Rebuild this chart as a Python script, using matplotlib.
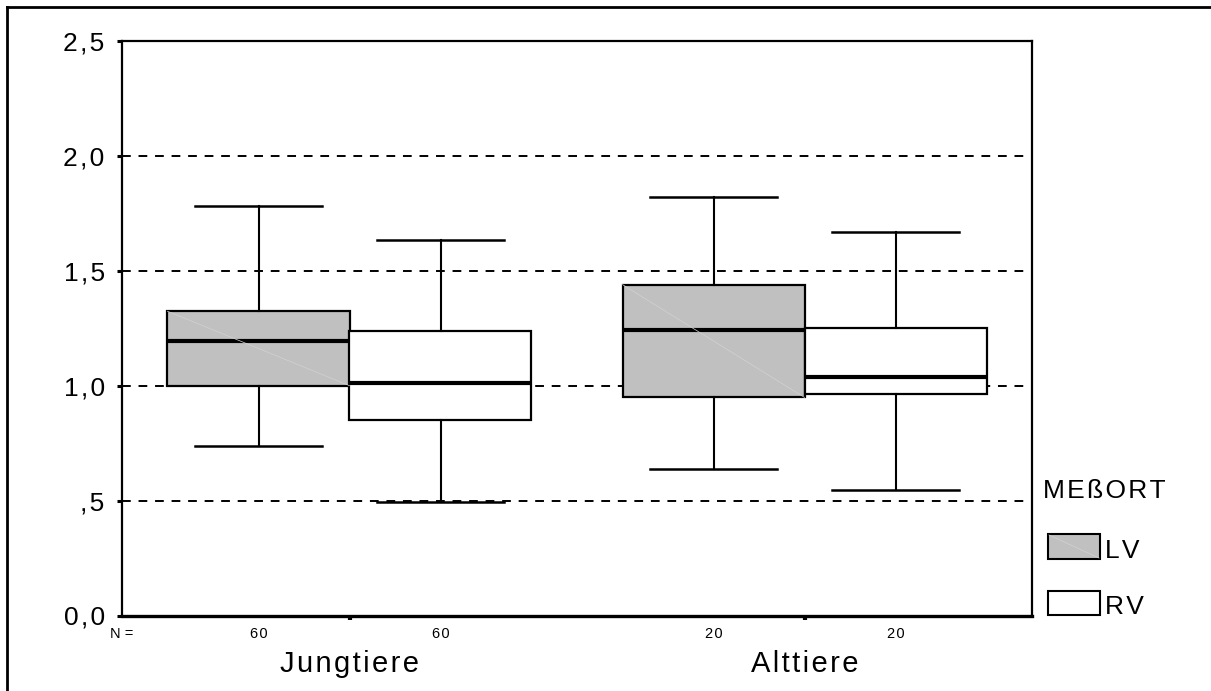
import matplotlib
matplotlib.use("Agg")
import matplotlib.pyplot as plt
from matplotlib.lines import Line2D
from matplotlib.patches import Rectangle

plt.rcParams["font.family"] = ["Liberation Sans", "DejaVu Sans"]

# Box plot statistics (SPSS style, no outliers)
groups = ["Jungtiere", "Alttiere"]
sites = ["LV", "RV"]
counts = [60, 60, 20, 20]
whisker_low = [0.738, 0.495, 0.637, 0.546]
quartile_1 = [1.000, 0.850, 0.949, 0.963]
medians = [1.196, 1.012, 1.243, 1.038]
quartile_3 = [1.324, 1.238, 1.440, 1.251]
whisker_high = [1.780, 1.636, 1.821, 1.670]
y_ticks = [0.0, 0.5, 1.0, 1.5, 2.0, 2.5]
y_tick_labels = ["0,0", ",5", "1,0", "1,5", "2,0", "2,5"]
legend_title = "MEßORT"

site_colors = {"LV": "#c0c0c0", "RV": "white"}

W, H = 1211, 691
fig = plt.figure(figsize=(W / 100, H / 100), dpi=100)


def fx(px):
    return px / W


def fy(py):
    return 1 - py / H


def spaced(text):
    # SPSS output is drawn with loose letter spacing
    return "\u200a".join(text)


ax = fig.add_axes([fx(122), fy(615.5), fx(1032) - fx(122), fy(41) - fy(615.5)])

positions = []
for g in range(len(groups)):
    for s in range(len(sites)):
        positions.append(g + 0.3 + 0.4 * s)

stats = []
for i in range(len(counts)):
    stats.append({
        "med": medians[i],
        "q1": quartile_1[i],
        "q3": quartile_3[i],
        "whislo": whisker_low[i],
        "whishi": whisker_high[i],
        "fliers": [],
    })

bp = ax.bxp(
    stats,
    positions=positions,
    widths=0.4,
    capwidths=0.28,
    patch_artist=True,
    showfliers=False,
    boxprops={"linewidth": 1.6, "edgecolor": "black"},
    medianprops={"linewidth": 3.0, "color": "black"},
    whiskerprops={"linewidth": 1.5, "color": "black"},
    capprops={"linewidth": 1.8, "color": "black"},
    zorder=3,
)
for i, box in enumerate(bp["boxes"]):
    site = sites[i % len(sites)]
    box.set_facecolor(site_colors[site])
    if site == "LV":
        # faint diagonal artefact visible in the grey boxes
        ax.plot([positions[i] - 0.2, positions[i] + 0.2], [quartile_3[i], quartile_1[i]],
                color="#d2d2d2", linewidth=0.5, zorder=3.5)

ax.set_xlim(0, 2)
ax.set_ylim(0, 2.5)
ax.set_yticks(y_ticks)
ax.set_yticklabels([spaced(t) for t in y_tick_labels], fontsize=19)
ax.tick_params(axis="y", length=3.5, width=2.2, pad=9, direction="out")
ax.set_xticks([1])
ax.set_xticks([0.5, 1.5], minor=True)
ax.set_xticklabels([])
ax.tick_params(axis="x", which="major", length=0)
ax.tick_params(axis="x", which="minor", length=3, width=3, direction="out")

for y in y_ticks[1:-1]:
    ax.axhline(y, color="black", linewidth=1.4, linestyle=(0, (4.5, 4.0)), zorder=1)

for side in ["left", "right", "top"]:
    ax.spines[side].set_linewidth(1.6)
ax.spines["bottom"].set_linewidth(2.4)

# N counts and group labels under the axis
ax.text(0, -0.098, "N =", fontsize=10.5, ha="center", va="baseline", clip_on=False)
for pos, n in zip(positions, counts):
    ax.text(pos, -0.098, spaced(str(n)), fontsize=10.5, ha="center", va="baseline", clip_on=False)
for g, name in enumerate(groups):
    ax.text(g + 0.5, -0.246, spaced(name), fontsize=21, ha="center", va="baseline", clip_on=False)

# legend drawn in figure pixels
fig.text(fx(1043), fy(491), spaced(legend_title), fontsize=19, ha="left", va="center")
legend_rows = [(534, 559), (591, 615)]
for site, (top, bottom) in zip(sites, legend_rows):
    fig.add_artist(Rectangle((fx(1048), fy(bottom)), fx(1100) - fx(1048), fy(top) - fy(bottom),
                             transform=fig.transFigure, facecolor=site_colors[site],
                             edgecolor="black", linewidth=1.5))
    if site == "LV":
        fig.add_artist(Line2D([fx(1049), fx(1099)], [fy(top + 1), fy(bottom - 1)],
                              transform=fig.transFigure, color="#d2d2d2", linewidth=0.5))
    fig.text(fx(1105), fy((top + bottom) / 2 + 4), spaced(site), fontsize=19, ha="left", va="center")

# outer frame (left and top edges only, as in the cropped original)
fig.add_artist(Line2D([fx(7), fx(7)], [fy(7), 0], transform=fig.transFigure, color="black", linewidth=2))
fig.add_artist(Line2D([fx(7), 1], [fy(7), fy(7)], transform=fig.transFigure, color="black", linewidth=2))

fig.savefig("out.png", dpi=100)
